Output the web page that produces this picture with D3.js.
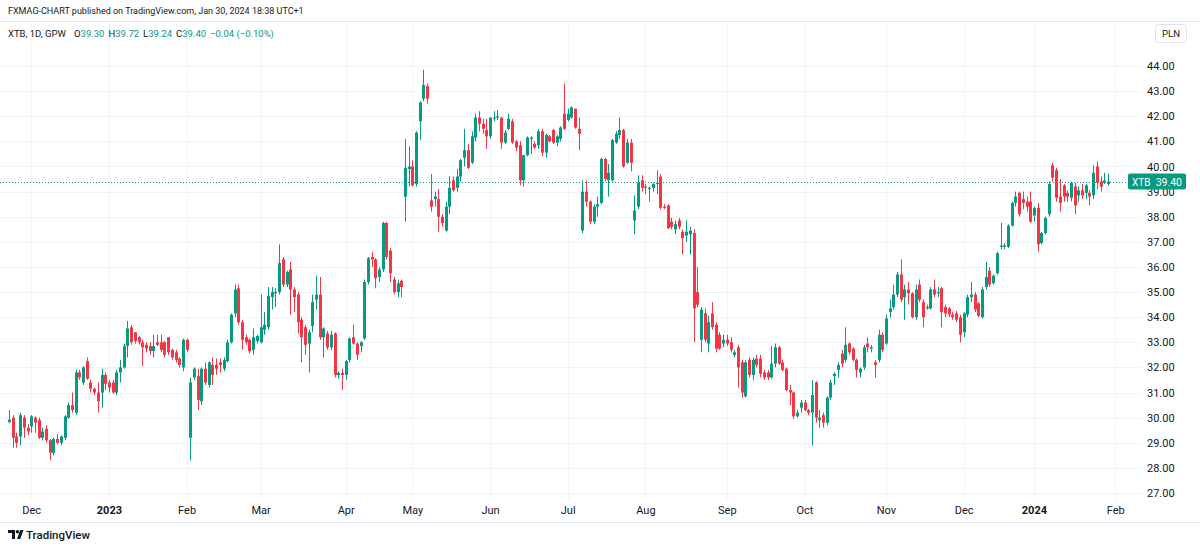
<!DOCTYPE html>
<html>
<head>
<meta charset="utf-8">
<script src="https://cdn.jsdelivr.net/npm/d3@7"></script>
<style>
  html, body { margin: 0; padding: 0; background: #fff; }
  svg { display: block; font-family: Roboto, "Noto Sans", sans-serif; }
  .grid line { stroke: #f0f3fa; stroke-width: 1; }
</style>
</head>
<body>
<div id="chart"></div>
<script>
// OHLC per trading day, grouped by month: [open, high, low, close]
const nov22 = [
  [29.82,30.3,29.78,29.92],[30.0,30.1,28.8,29.2],[29.25,29.4,28.8,29.0],[29.25,30.2,28.9,30.1],
  [30.0,30.1,29.2,29.6],[29.6,29.75,29.3,29.45]];
const dec22 = [
  [29.65,30.1,29.4,30.05],[30.0,30.05,29.4,29.8],[29.9,30.0,29.15,29.2],[29.2,29.6,29.1,29.45],
  [29.55,29.7,29.0,29.1],[29.1,29.15,28.3,28.6],[28.6,29.2,28.5,29.15],[29.15,29.35,28.95,29.0],
  [29.0,29.3,28.9,29.25],[29.2,30.1,29.1,30.05],[30.0,30.6,29.95,30.5],[30.5,31.0,30.2,30.3],
  [30.2,31.9,30.1,31.8],[31.8,31.9,31.5,31.6],[31.4,32.05,31.3,32.0],[32.25,32.4,31.5,31.55],
  [31.4,31.5,31.0,31.15],[31.15,31.2,30.9,31.0],[31.0,31.4,30.2,30.65],[31.0,31.95,30.4,31.7],
  [31.7,31.8,31.1,31.35]];
const jan23 = [
  [31.4,31.5,31.0,31.2],[31.4,31.5,30.95,31.0],[31.0,31.9,30.9,31.8],[31.8,32.3,31.4,32.0],
  [32.0,32.95,31.95,32.85],[32.85,33.85,32.4,33.55],[33.6,33.7,32.9,33.0],[33.4,33.4,32.95,33.05],
  [33.2,33.25,32.9,33.0],[33.0,33.1,32.05,32.8],[32.9,33.0,32.6,32.75],[32.85,33.0,32.5,32.65],
  [32.65,33.3,32.4,32.85],[33.0,33.3,32.85,32.9],[33.0,33.3,32.6,32.7],[33.0,33.05,32.4,32.5],
  [33.2,33.2,32.5,32.6],[32.7,32.75,32.3,32.4],[32.6,32.7,32.2,32.3],[32.35,32.4,32.0,32.1],
  [32.0,33.15,31.85,33.1]];
const feb23 = [
  [33.1,33.15,32.6,32.7],[29.2,31.6,28.3,31.4],[31.6,32.0,31.5,31.95],[31.65,31.95,30.3,30.7],
  [30.65,32.0,30.5,31.95],[31.95,32.2,31.3,31.4],[31.3,32.25,31.2,32.2],[32.1,32.4,31.3,31.7],
  [32.1,32.35,31.7,31.95],[32.2,32.35,31.8,32.1],[31.95,32.4,31.85,32.3],[32.25,33.1,32.2,33.0],
  [33.0,34.15,32.95,34.1],[34.15,35.3,34.0,35.1],[35.15,35.3,33.7,33.8],[33.8,33.9,32.7,33.1],
  [33.2,33.3,32.9,33.0],[33.1,33.15,32.55,32.65],[32.7,33.55,32.5,33.2],[33.05,33.3,32.95,33.25]];
const mar23 = [
  [33.0,34.9,32.95,33.6],[33.5,34.2,33.3,33.7],[33.6,35.2,33.5,34.85],[34.8,35.2,34.3,35.0],
  [34.95,35.15,34.4,35.0],[35.0,36.9,34.9,36.15],[36.3,36.4,35.2,35.3],[35.3,35.85,35.2,35.8],
  [35.9,36.2,34.1,35.1],[35.1,35.2,34.2,34.8],[34.9,35.0,33.35,33.8],[33.9,34.0,32.2,33.2],
  [33.6,33.7,32.5,32.9],[32.95,33.5,31.8,33.4],[33.65,34.9,33.4,34.6],[34.7,35.65,34.3,34.9],
  [34.9,35.6,33.1,33.2],[33.2,33.6,32.4,33.55],[33.35,33.45,32.7,32.8],[32.8,33.45,32.7,33.3],
  [33.35,33.4,31.6,31.7],[31.7,31.85,31.55,31.78],[31.78,31.95,31.1,31.7]];
const apr23 = [
  [31.7,32.3,31.5,32.25],[32.3,33.2,32.2,33.15],[33.2,33.7,32.9,32.95],[32.95,33.0,32.3,32.5],
  [32.85,33.05,32.6,33.0],[33.15,35.5,33.1,35.4],[35.4,36.4,35.3,36.35],[36.4,36.6,36.0,36.3],
  [36.3,36.35,35.15,35.55],[35.6,36.0,35.4,35.9],[35.9,37.8,35.8,37.75],[37.75,37.8,36.3,36.4],
  [36.65,36.75,35.4,35.75],[35.5,35.6,34.9,35.0],[35.0,35.5,34.8,35.35],[35.45,35.5,34.8,35.2],
  [38.8,41.1,37.8,39.95],[39.9,40.8,39.2,40.0]];
const may23 = [
  [40.0,40.25,39.2,39.25],[39.3,41.4,39.2,41.35],[41.8,42.6,41.05,42.55],[42.7,43.85,42.6,43.25],
  [43.2,43.3,42.5,42.7],[38.65,39.7,38.2,38.4],[38.7,39.0,38.4,38.8],[38.7,39.1,37.4,38.0],
  [38.0,38.1,37.6,37.75],[37.45,38.6,37.4,38.4],[38.4,39.6,38.1,39.15],[39.45,39.6,39.0,39.05],
  [39.15,39.9,39.0,39.6],[39.6,40.3,39.4,40.25],[40.35,41.5,40.0,40.65],[40.65,40.9,39.9,39.95],
  [40.15,41.4,40.1,41.2],[41.15,42.1,41.0,41.95],[41.95,42.2,41.4,41.7],[41.7,41.9,41.3,41.5],
  [41.45,41.9,40.7,41.2]];
const jun23 = [
  [41.2,41.95,41.1,41.95],[41.9,42.2,41.8,41.95],[41.95,42.25,41.85,42.0],[41.95,41.95,40.7,40.95],
  [40.95,41.45,40.9,41.35],[41.5,42.1,41.45,41.9],[41.8,41.9,40.9,40.95],[41.0,41.05,40.6,40.75],
  [40.85,41.0,39.25,39.45],[39.45,40.45,39.2,40.45],[40.45,41.2,40.4,41.15],[41.1,41.2,40.5,41.15],
  [40.9,41.0,40.7,40.75],[40.85,41.5,40.7,41.4],[41.4,41.5,40.4,40.55],[40.55,41.3,40.35,41.25],
  [41.2,41.25,40.95,41.0],[41.45,41.5,40.9,40.95],[40.95,41.25,40.8,41.2],[41.1,41.6,41.0,41.55],
  [42.1,43.3,41.45,41.5]];
const jul23 = [
  [41.85,42.3,41.8,42.1],[41.95,42.4,41.9,42.35],[42.3,42.3,41.5,41.55],[41.5,41.95,40.65,41.3],
  [37.45,39.45,37.35,39.0],[39.0,39.45,38.4,38.6],[38.6,38.65,37.7,37.8],[37.8,38.5,37.7,38.4],
  [38.4,38.8,38.0,38.5],[38.55,40.35,38.5,40.3],[40.3,40.35,39.4,39.5],[39.45,40.1,38.8,39.75],
  [39.45,41.1,39.4,41.05],[40.95,41.4,40.9,41.3],[41.25,41.95,41.1,41.45],[41.45,41.5,39.95,40.0],
  [40.15,41.1,40.1,40.95],[40.95,41.1,39.8,40.15],[37.85,38.85,37.3,38.25],[38.4,39.65,38.3,39.35],
  [39.45,39.65,39.0,39.15]];
const aug23 = [
  [39.2,39.3,38.9,39.15],[39.1,39.2,38.6,39.15],[39.15,39.35,39.0,39.3],[39.3,39.85,38.9,39.35],
  [39.6,39.7,38.3,38.35],[38.4,38.5,38.3,38.35],[38.45,38.5,37.5,37.55],[37.8,37.95,37.5,37.6],
  [37.5,37.85,37.3,37.7],[37.85,37.95,37.5,37.6],[37.4,37.5,36.5,37.15],[37.25,37.85,37.0,37.4],
  [37.3,37.6,36.5,37.45],[37.35,37.5,33.0,34.35],[35.0,36.0,34.4,34.5],[33.1,34.4,32.6,34.3],
  [34.15,34.35,33.0,33.1],[32.95,34.05,32.6,33.8],[34.15,34.6,33.5,33.6],[33.7,33.8,32.6,32.75],
  [33.3,33.4,32.7,32.75],[32.95,33.3,32.8,33.1]];
const sep23 = [
  [33.1,33.3,32.85,32.95],[33.0,33.2,32.6,32.7],[32.5,32.7,32.4,32.6],[32.8,32.9,31.2,32.0],
  [32.2,32.3,30.8,31.0],[30.85,32.3,30.8,32.2],[32.3,32.4,31.6,31.7],[31.7,32.4,31.5,32.3],
  [32.35,32.5,32.0,32.1],[32.35,32.5,31.6,31.75],[31.8,31.9,31.5,31.6],[31.8,31.9,31.5,31.6],
  [31.6,32.85,31.55,32.15],[32.15,32.95,32.0,32.8],[32.8,32.85,32.1,32.15],[32.2,32.3,31.85,31.9],
  [31.95,32.0,31.05,31.1],[31.1,31.3,30.5,31.0],[31.0,31.05,29.95,30.05],[30.05,30.3,30.0,30.2],
  [30.4,30.7,30.2,30.6]];
const oct23 = [
  [30.6,30.7,30.25,30.3],[30.3,30.35,30.1,30.2],[30.2,31.5,28.9,30.9],[31.4,31.45,29.8,30.0],
  [29.9,30.3,29.6,30.0],[30.1,30.2,29.6,29.8],[29.8,30.85,29.7,30.8],[30.8,31.5,30.7,31.4],
  [31.65,31.8,31.3,31.75],[31.9,32.2,31.6,32.1],[32.55,32.7,32.0,32.15],[32.3,33.6,32.2,32.9],
  [32.95,33.0,32.5,32.6],[32.75,32.8,32.25,32.3],[32.3,32.35,31.6,31.9],[31.8,32.0,31.6,31.95],
  [32.0,32.9,31.9,32.8],[32.95,33.2,32.6,32.8],[32.75,32.9,32.6,32.8],[32.2,32.3,31.6,32.1],
  [32.3,33.5,32.2,33.3],[33.3,33.4,32.6,32.7]];
const nov23 = [
  [32.95,34.1,32.9,33.95],[34.2,34.7,34.0,34.35],[34.4,35.3,34.3,34.9],[34.9,35.8,34.8,35.7],
  [35.7,36.3,34.6,34.7],[34.8,35.3,33.9,35.1],[35.1,35.4,34.5,34.95],[34.95,35.0,33.95,34.0],
  [34.0,35.3,33.9,35.1],[35.3,35.5,34.6,34.7],[34.6,34.7,33.6,34.0],[34.35,34.5,34.3,34.4],
  [34.35,35.2,34.3,35.1],[35.1,35.5,34.8,34.9],[34.95,35.2,34.8,35.0],[35.15,35.2,33.6,34.2],
  [34.4,34.5,34.0,34.15],[34.35,34.4,34.0,34.1],[34.1,34.2,33.9,34.0],[34.15,34.25,33.8,33.9],
  [34.0,34.1,33.0,33.3]];
const dec23 = [
  [33.4,34.2,33.2,34.15],[34.1,34.9,34.0,34.8],[34.8,35.4,34.6,34.9],[34.9,35.0,34.2,34.3],
  [34.55,34.6,34.0,34.05],[34.0,35.2,33.95,35.1],[35.2,36.2,35.1,35.6],[35.85,36.0,35.2,35.3],
  [35.35,35.7,35.3,35.65],[35.75,36.6,35.7,36.55],[36.8,37.75,36.7,36.85],[36.8,36.95,36.7,36.85],
  [36.8,37.7,36.75,37.65],[37.65,38.6,37.6,38.55],[38.55,39.0,38.4,38.8],[38.95,39.0,38.0,38.1],
  [38.7,39.0,38.3,38.55],[38.6,38.8,38.2,38.4],[38.6,39.0,37.75,37.8]];
const jan24 = [
  [38.05,38.4,37.8,38.35],[38.35,38.55,36.6,36.9],[36.95,37.4,36.9,37.35],[37.35,38.0,37.3,37.95],
  [38.1,39.4,38.0,39.3],[40.05,40.15,39.4,39.55],[39.85,39.95,38.6,38.75],[38.8,39.5,38.2,38.55],
  [39.25,39.3,38.6,38.8],[38.95,39.05,38.6,38.8],[38.75,39.4,38.6,39.35],[39.2,39.35,38.1,38.45],
  [38.85,39.2,38.6,39.05],[39.05,39.3,38.7,38.85],[38.95,39.3,38.7,39.25],[38.95,39.05,38.45,38.8],
  [38.85,40.05,38.7,39.75],[40.0,40.2,39.1,39.35],[39.4,39.6,39.0,39.2],[39.35,39.75,39.3,39.44],
  [39.30,39.72,39.24,39.40]];

// time axis: bar index of first session of each month, and its label
const monthTickIdx = [6, 27, 48, 68, 91, 109, 130, 151, 172, 194, 215, 237, 258, 277, 299];
const monthTickLabels = ['Dec','2023','Feb','Mar','Apr','May','Jun','Jul','Aug','Sep','Oct','Nov','Dec','2024','Feb'];
const yearLabels = ['2023', '2024'];
const priceTicks = d3.range(27, 45, 1);
const lastPrice = 39.40;

const candles = [].concat(nov22, dec22, jan23, feb23, mar23, apr23, may23, jun23,
  jul23, aug23, sep23, oct23, nov23, dec23, jan24)
  .map((d, i) => ({ i, o: d[0], h: d[1], l: d[2], c: d[3] }));

const W = 1200, H = 548;
const plot = { left: 0, right: 1142, top: 22, bottom: 500 };
const UP = '#089981', DOWN = '#f23645', TXT = '#131722';

const svg = d3.select('#chart').append('svg')
  .attr('width', W).attr('height', H);

const x = d3.scaleLinear().domain([0, 299]).range([9, 1115.3]);
const y = d3.scaleLinear().domain([27, 44]).range([493, 66]);

// header
svg.append('text')
  .attr('x', 8).attr('y', 14)
  .attr('font-size', 9).attr('fill', TXT)
  .text('FXMAG-CHART published on TradingView.com, Jan 30, 2024 18:38 UTC+1');
svg.append('line')
  .attr('x1', 0).attr('x2', W).attr('y1', 21.5).attr('y2', 21.5)
  .attr('stroke', '#e0e3eb');

// grid
const grid = svg.append('g').attr('class', 'grid');
grid.selectAll('.hg').data(priceTicks).join('line')
  .attr('x1', plot.left).attr('x2', plot.right)
  .attr('y1', d => Math.round(y(d)) + 0.5).attr('y2', d => Math.round(y(d)) + 0.5);
grid.selectAll('.vg').data(monthTickIdx).join('line')
  .attr('x1', d => Math.round(x(d)) + 0.5).attr('x2', d => Math.round(x(d)) + 0.5)
  .attr('y1', plot.top).attr('y2', plot.bottom);

// last price dotted line
svg.append('line')
  .attr('x1', plot.left).attr('x2', plot.right)
  .attr('y1', Math.round(y(lastPrice)) + 0.5).attr('y2', Math.round(y(lastPrice)) + 0.5)
  .attr('stroke', UP).attr('stroke-width', 1).attr('stroke-dasharray', '1,2');

// candles
const cg = svg.append('g');
cg.selectAll('line.wick').data(candles).join('line')
  .attr('class', 'wick')
  .attr('x1', d => Math.round(x(d.i)) + 0.5).attr('x2', d => Math.round(x(d.i)) + 0.5)
  .attr('y1', d => y(d.h)).attr('y2', d => y(d.l))
  .attr('stroke', d => d.c >= d.o ? UP : DOWN).attr('stroke-width', 1);
cg.selectAll('rect.body').data(candles).join('rect')
  .attr('class', 'body')
  .attr('x', d => Math.round(x(d.i)) - 1)
  .attr('width', 3)
  .attr('y', d => y(Math.max(d.o, d.c)))
  .attr('height', d => Math.max(1, Math.abs(y(d.o) - y(d.c))))
  .attr('fill', d => d.c >= d.o ? UP : DOWN);

// price axis
const yAxis = svg.append('g')
  .attr('transform', `translate(${plot.right + 1},0)`)
  .call(d3.axisRight(y).tickValues(priceTicks)
    .tickFormat(d3.format('.2f')).tickSize(0).tickPadding(4));
yAxis.select('.domain').remove();
yAxis.selectAll('text')
  .attr('font-family', 'Roboto, sans-serif').attr('font-size', 11).attr('fill', TXT);

// time axis
const xAxis = svg.append('g')
  .attr('transform', `translate(0,${plot.bottom + 3})`)
  .call(d3.axisBottom(x).tickValues(monthTickIdx)
    .tickFormat((d, k) => monthTickLabels[k]).tickSize(0).tickPadding(3));
xAxis.select('.domain').remove();
xAxis.selectAll('text')
  .attr('font-family', 'Roboto, sans-serif').attr('font-size', 11).attr('fill', TXT)
  .attr('font-weight', (d, k) => yearLabels.includes(monthTickLabels[k]) ? 700 : 400);

// last price label, drawn over the axis labels like the original
const lp = svg.append('g').attr('transform', `translate(1128,${y(lastPrice) - 8})`);
lp.append('rect').attr('width', 58).attr('height', 16).attr('rx', 2).attr('fill', UP);
lp.append('text').attr('x', 4).attr('y', 12).attr('fill', '#fff').attr('font-size', 10).text('XTB');
lp.append('text').attr('x', 54).attr('y', 12).attr('fill', '#fff').attr('font-size', 10.5)
  .attr('text-anchor', 'end').text(lastPrice.toFixed(2));

// currency box
const cur = svg.append('g').attr('transform', 'translate(1155,24)');
cur.append('rect').attr('x', 0.5).attr('y', 0.5).attr('width', 31).attr('height', 18).attr('rx', 3)
  .attr('fill', '#fff').attr('stroke', '#e0e3eb');
cur.append('text').attr('x', 16).attr('y', 13).attr('text-anchor', 'middle')
  .attr('font-size', 9.5).attr('fill', TXT).text('PLN');

// legend
const last = candles[candles.length - 1];
const prev = candles[candles.length - 2];
const chg = last.c - prev.c;
const leg = svg.append('text').attr('x', 8).attr('y', 37).attr('font-size', 9.5);
leg.append('tspan').attr('fill', TXT).text('XTB, 1D, GPW');
[['O', last.o], ['H', last.h], ['L', last.l], ['C', last.c]].forEach(([k, v], n) => {
  leg.append('tspan').attr('fill', TXT).attr('dx', n === 0 ? 8 : 4).text(k);
  leg.append('tspan').attr('fill', UP).text(v.toFixed(2));
});
leg.append('tspan').attr('fill', UP).attr('dx', 4)
  .text(`${chg < 0 ? '\u2212' : '+'}${Math.abs(chg).toFixed(2)} (${chg < 0 ? '\u2212' : '+'}${Math.abs(chg / prev.c * 100).toFixed(2)}%)`);

// footer
svg.append('line')
  .attr('x1', 0).attr('x2', W).attr('y1', 522.5).attr('y2', 522.5)
  .attr('stroke', '#e0e3eb');
const logo = svg.append('g').attr('transform', 'translate(8,530)');
logo.append('path').attr('d', 'M0 0h7v9h-3v-6h-4z').attr('fill', TXT);
logo.append('circle').attr('cx', 9.5).attr('cy', 1.8).attr('r', 1.8).attr('fill', TXT);
logo.append('path').attr('d', 'M9 9l3.2-9h3.3l-3.3 9z').attr('fill', TXT);
svg.append('text').attr('x', 26).attr('y', 539)
  .attr('font-size', 11.5).attr('font-weight', 500).attr('fill', TXT).text('TradingView');
</script>
</body>
</html>
